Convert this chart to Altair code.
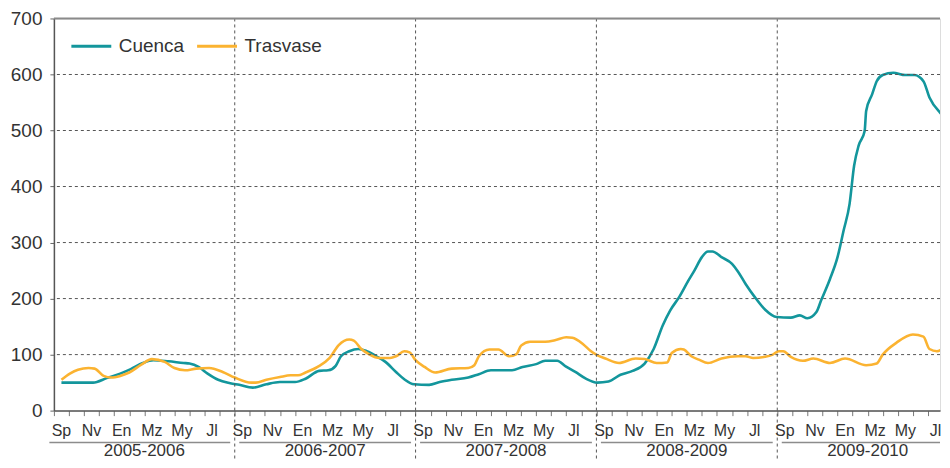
import altair as alt
import pandas as pd

# Months counted from start of Sep 2005
cuenca_m = [0.5, 1.5, 2.6, 3.5, 4.4, 5.1, 5.9, 6.6, 7.6, 8.6, 9.0, 9.6, 10.2, 10.9, 11.7,
            12.3, 13.2, 14.1, 15.0, 16.0, 16.7, 17.6, 18.2, 18.7, 19.05, 19.6, 20.2, 20.7,
            21.4, 22.0, 22.7, 23.25, 23.9, 24.9, 25.6, 26.4, 27.5, 28.2, 29.0, 30.4, 31.1,
            32.0, 32.6, 33.4, 33.96, 34.6, 35.3, 36.05, 36.8, 37.6, 38.4, 39.2, 39.8, 40.4,
            40.9, 41.5, 42.1, 42.5, 43.0, 43.4, 43.7, 44.3, 45.0, 45.4, 45.9, 46.5, 47.2,
            47.96, 48.9, 49.5, 50.0, 50.6, 50.9, 51.5, 52.0, 52.4, 52.8, 53.1, 53.4, 53.8,
            53.9, 54.3, 54.6, 55.0, 55.7, 56.5, 57.1, 57.7, 58.1, 58.8, 59.3]
cuenca_v = [50, 50, 50, 58, 66, 74, 85, 90, 88, 85, 84, 78, 66, 55, 49,
            46, 41, 47, 51, 51, 57, 71, 72, 80, 97, 106, 110, 107,
            97, 87, 69, 56, 47, 46, 51, 55, 59, 65, 72, 72, 78,
            83, 89, 89, 79, 69, 57, 50, 52, 64, 71, 84, 110, 152,
            179, 203, 232, 250, 274, 284, 284, 274, 262, 248, 226, 203, 180,
            167, 166, 170, 165, 176, 196, 235, 274, 321, 369, 437, 473, 499,
            535, 565, 588, 599, 603, 599, 599, 588, 559, 532, 520]

trasvase_m = [0.5, 1.06, 1.6, 2.3, 2.7, 3.3, 3.8, 4.4, 5.0, 5.8, 6.5, 7.35, 8.0, 8.7, 9.45,
              10.3, 11.2, 12.0, 13.1, 13.4, 14.1, 15.0, 15.7, 16.2, 16.7, 17.5, 18.3, 18.9,
              19.6, 19.9, 20.4, 20.9, 21.6, 22.3, 22.7, 23.25, 23.6, 24.0, 24.6, 25.3, 26.4,
              27.5, 27.9, 28.2, 28.9, 29.5, 30.2, 30.7, 31.0, 31.6, 32.6, 33.3, 34.0, 34.4,
              35.1, 35.6, 36.05, 36.6, 37.5, 38.6, 39.2, 40.0, 40.7, 41.0, 41.6, 41.8, 42.3,
              42.8, 43.4, 44.3, 45.4, 45.9, 46.4, 47.2, 47.7, 48.1, 48.4, 48.9, 49.7, 50.4,
              51.5, 52.5, 53.9, 54.6, 55.0, 55.9, 57.0, 57.7, 58.1, 58.6, 59.3]
trasvase_v = [55, 66, 73, 76, 75, 62, 59, 62, 68, 82, 92, 87, 76, 72, 75,
              76, 69, 59, 50, 50, 55, 60, 63, 63, 68, 78, 94, 117,
              127, 125, 110, 101, 94, 94, 97, 106, 104, 90, 78, 68, 75,
              76, 81, 97, 109, 109, 97, 101, 116, 123, 123, 126, 131, 130,
              119, 107, 99, 93, 85, 93, 92, 85, 86, 103, 110, 109, 97,
              91, 85, 93, 97, 97, 94, 96, 100, 106, 106, 96, 89, 93,
              85, 93, 81, 84, 100, 121, 136, 132, 110, 106, 119]

month_names = ["Sp", "Nv", "En", "Mz", "My", "Jl"]
month_index = [0, 2, 4, 6, 8, 10]
year_labels = ["2005-2006", "2006-2007", "2007-2008", "2008-2009", "2009-2010"]
y_ticks = [0, 100, 200, 300, 400, 500, 600, 700]
grid_vals = [100, 200, 300, 400, 500, 600]
year_bounds = [12, 24, 36, 48]

XMAX = 58.8   # visible end of the time axis
W = 888
H = 393
FONT = "Liberation Sans"
TXT = "#333333"

xs = alt.Scale(domain=[0, XMAX], nice=False, zero=False)
ys = alt.Scale(domain=[0, 700], nice=False)

x_axis = alt.Axis(values=list(range(59)), labels=False, ticks=True, tickSize=5,
                  tickColor="#777777", domainColor="#555555", domainWidth=1.5,
                  title=None, grid=False)
y_axis = alt.Axis(values=y_ticks, title=None, grid=False, tickSize=4, tickColor="#666666",
                  domainColor="#555555", domainWidth=1.5, labelFontSize=19, labelColor=TXT,
                  labelPadding=8, labelFont=FONT)

series = pd.DataFrame({
    "m": cuenca_m + trasvase_m,
    "v": cuenca_v + trasvase_v,
    "s": ["Cuenca"] * len(cuenca_m) + ["Trasvase"] * len(trasvase_m),
})

months_df = pd.DataFrame([
    {"m": yi * 12 + mi + 0.5, "label": mn}
    for yi in range(len(year_labels))
    for mi, mn in zip(month_index, month_names)
])
years_df = pd.DataFrame({
    "m": [i * 12 + 6 for i in range(len(year_labels))],
    "label": year_labels,
    "start": [i * 12 + (0.3 if i > 0 else -0.3) for i in range(len(year_labels))],
    "end": [min((i + 1) * 12 - 0.3, XMAX) for i in range(len(year_labels))],
})

lines = alt.Chart(series).mark_line(strokeWidth=2.6, interpolate="monotone", clip=True).encode(
    x=alt.X("m:Q", scale=xs, axis=x_axis),
    y=alt.Y("v:Q", scale=ys, axis=y_axis),
    color=alt.Color("s:N", scale=alt.Scale(domain=["Cuenca", "Trasvase"],
                                           range=["#13969c", "#fbb331"]),
                    legend=alt.Legend(title=None, orient="none", legendX=16, legendY=6,
                                      direction="horizontal",
                                      symbolType="stroke", symbolSize=1600,
                                      symbolStrokeWidth=3, labelFontSize=19, labelColor=TXT,
                                      labelFont=FONT, labelOffset=6, columnPadding=6,
                                      padding=0)),
)

hgrid = alt.Chart(pd.DataFrame({"v": grid_vals})).mark_rule(
    color="#555555", strokeDash=[3, 3], strokeWidth=1
).encode(y=alt.Y("v:Q", scale=ys, axis=y_axis))

vgrid = alt.Chart(pd.DataFrame({"m": year_bounds})).mark_rule(
    color="#555555", strokeDash=[3, 3], strokeWidth=1
).encode(x=alt.X("m:Q", scale=xs, axis=x_axis), y=alt.value(0), y2=alt.value(H + 48))

topline = alt.Chart(pd.DataFrame({"v": [700]})).mark_rule(
    color="#8a8a8a", strokeWidth=2
).encode(y=alt.Y("v:Q", scale=ys, axis=y_axis))

month_text = alt.Chart(months_df).mark_text(
    fontSize=16, color=TXT, baseline="alphabetic", align="center", font=FONT
).encode(x=alt.X("m:Q", scale=xs, axis=x_axis), y=alt.value(H + 25), text="label:N")

year_text = alt.Chart(years_df).mark_text(
    fontSize=17, color=TXT, baseline="alphabetic", align="center", font=FONT
).encode(x=alt.X("m:Q", scale=xs, axis=x_axis), y=alt.value(H + 45), text="label:N")

year_sep = alt.Chart(years_df).mark_rule(color="#8c8c8c", strokeWidth=1.5).encode(
    x=alt.X("start:Q", scale=xs, axis=x_axis), x2="end:Q", y=alt.value(H + 32)
)

chart = alt.layer(lines, hgrid, vgrid, topline, year_sep, month_text, year_text).properties(
    width=W, height=H, padding={"left": 2, "top": 1, "right": 0, "bottom": 0}
).configure_view(strokeWidth=0).configure(font=FONT)

chart.save("out.html", embed_options={"renderer": "svg", "actions": False})
